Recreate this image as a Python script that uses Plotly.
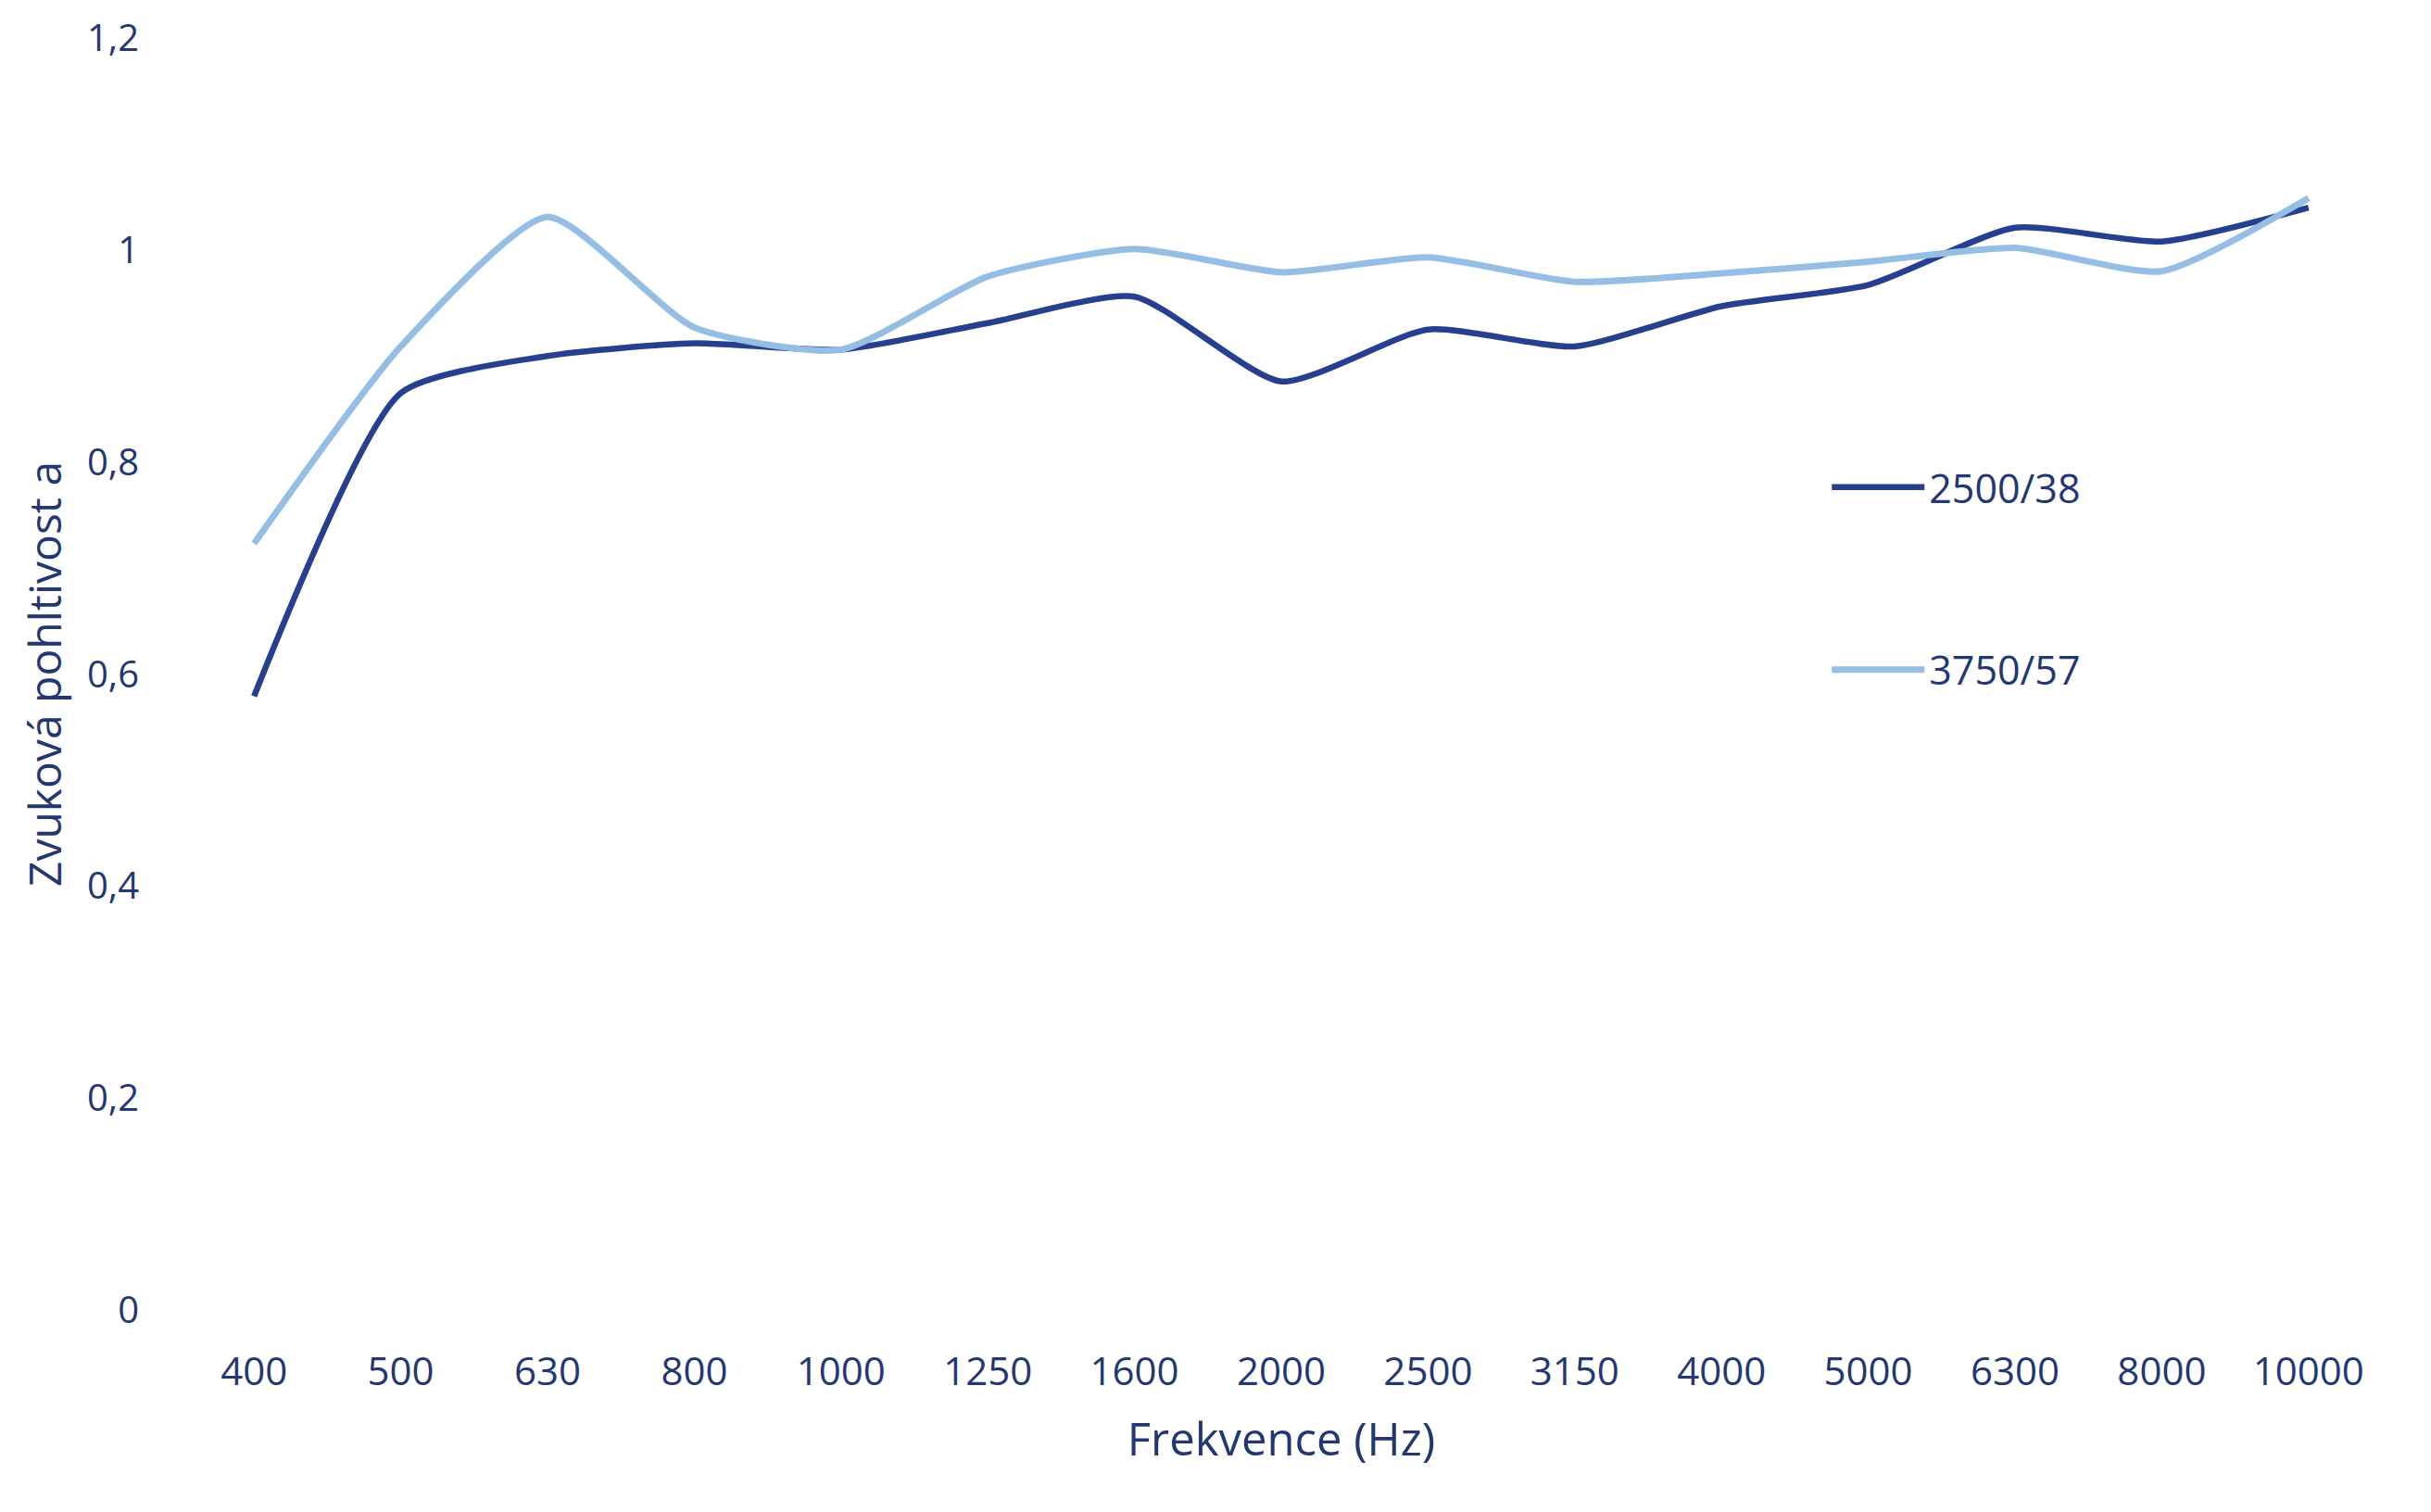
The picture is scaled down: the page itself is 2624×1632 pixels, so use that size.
import plotly.graph_objects as go

freq_labels = ["400", "500", "630", "800", "1000", "1250", "1600", "2000",
               "2500", "3150", "4000", "5000", "6300", "8000", "10000"]
series_2500_38 = [0.579, 0.865, 0.900, 0.912, 0.906, 0.931, 0.956, 0.876,
                  0.925, 0.909, 0.947, 0.967, 1.021, 1.008, 1.040]
series_3750_57 = [0.723, 0.909, 1.031, 0.927, 0.906, 0.975, 1.001, 0.979,
                  0.993, 0.970, 0.978, 0.989, 1.002, 0.980, 1.049]
y_tick_vals = [0, 0.2, 0.4, 0.6, 0.8, 1.0, 1.2]
y_tick_text = ["0", "0,2", "0,4", "0,6", "0,8", "1", "1,2"]

TEXT = "#233872"
FONT = "Open Sans"

fig = go.Figure()
fig.add_trace(go.Scatter(
    x=list(range(len(freq_labels))), y=series_2500_38, name="2500/38",
    mode="lines", line=dict(color="#263F8E", width=6.5, shape="spline", smoothing=0.6),
    legendgroup="g0",
))
fig.add_trace(go.Scatter(
    x=list(range(len(freq_labels))), y=series_3750_57, name="3750/57",
    mode="lines", line=dict(color="#95BEE4", width=7, shape="spline", smoothing=0.6),
    legendgroup="g1",
))

fig.update_layout(
    width=2624, height=1632,
    margin=dict(l=195, r=53, t=34, b=218),
    paper_bgcolor="white", plot_bgcolor="white",
    font=dict(family=FONT, color=TEXT, size=40),
    separators=", ",
    showlegend=True,
    legend=dict(
        x=0.748, y=0.672, xanchor="left", yanchor="top",
        font=dict(size=43, color=TEXT, family=FONT),
        bgcolor="rgba(0,0,0,0)", tracegroupgap=138,
        itemwidth=100,
    ),
    xaxis=dict(
        range=[-0.5, len(freq_labels) - 0.5],
        tickmode="array", tickvals=list(range(len(freq_labels))), ticktext=freq_labels,
        showgrid=False, zeroline=False, showline=False, ticks="",
        tickfont=dict(size=42, color=TEXT, family=FONT),
        ticklabelstandoff=38,
        title=dict(text="Frekvence (Hz)", font=dict(size=49, color=TEXT, family=FONT), standoff=30),
    ),
    yaxis=dict(
        range=[0, 1.2],
        tickmode="array", tickvals=y_tick_vals, ticktext=y_tick_text,
        showgrid=False, zeroline=False, showline=False, ticks="",
        tickfont=dict(size=40, color=TEXT, family=FONT),
        ticklabelstandoff=44,
        title=dict(text="Zvuková pohltivost a", font=dict(size=48, color=TEXT, family=FONT), standoff=12),
    ),
)

fig.write_html("out.html")
